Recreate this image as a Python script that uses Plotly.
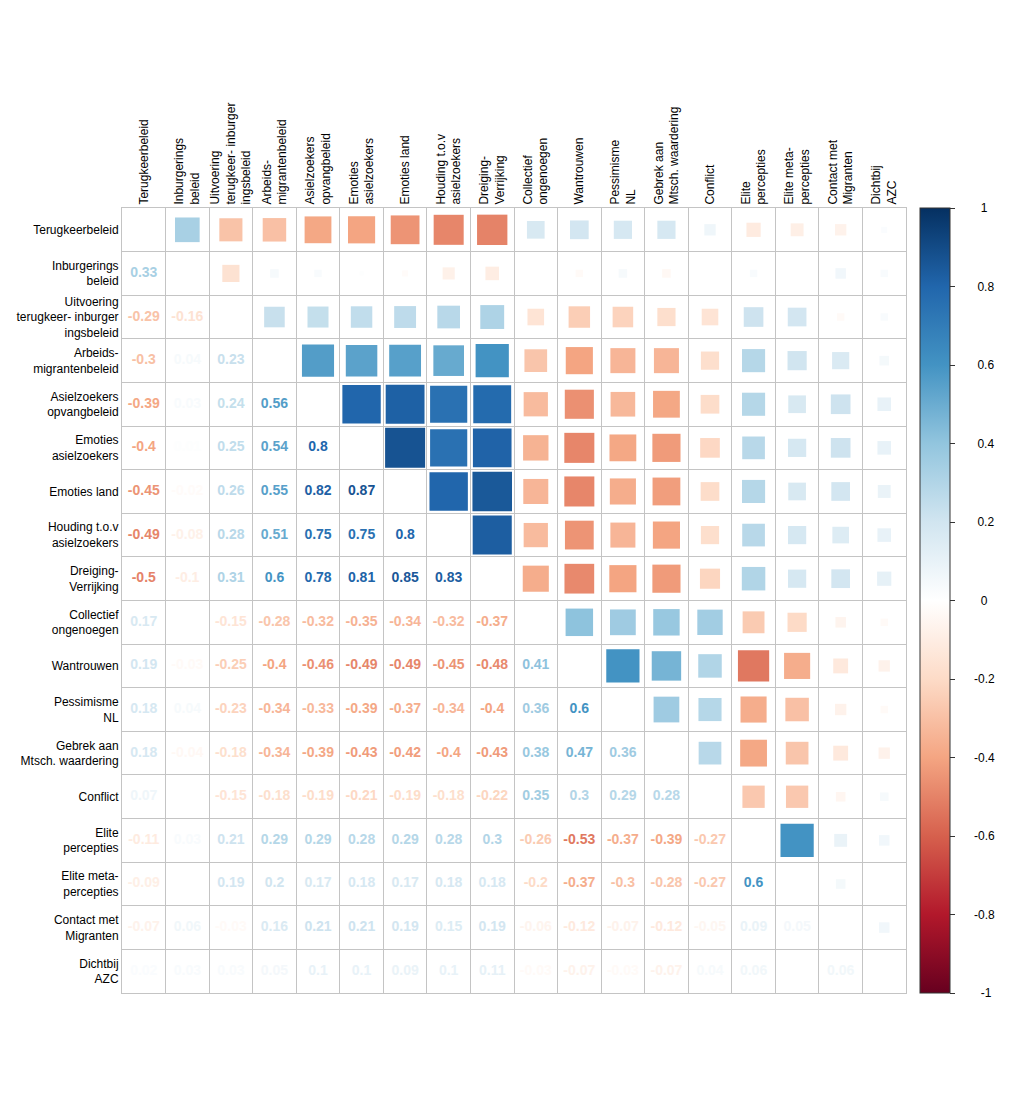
import math
import plotly.graph_objects as go

labels = [
    "Terugkeerbeleid",
    "Inburgerings<br>beleid",
    "Uitvoering<br>terugkeer- inburger<br>ingsbeleid",
    "Arbeids-<br>migrantenbeleid",
    "Asielzoekers<br>opvangbeleid",
    "Emoties<br>asielzoekers",
    "Emoties land",
    "Houding t.o.v<br>asielzoekers",
    "Dreiging-<br>Verrijking",
    "Collectief<br>ongenoegen",
    "Wantrouwen",
    "Pessimisme<br>NL",
    "Gebrek aan<br>Mtsch. waardering",
    "Conflict",
    "Elite<br>percepties",
    "Elite meta-<br>percepties",
    "Contact met<br>Migranten",
    "Dichtbij<br>AZC",
]

# lower triangle of the correlation matrix (row i, columns 0..i-1)
lower = [
    [],
    [0.33],
    [-0.29, -0.16],
    [-0.30, 0.04, 0.23],
    [-0.39, 0.03, 0.24, 0.56],
    [-0.40, 0.01, 0.25, 0.54, 0.80],
    [-0.45, -0.02, 0.26, 0.55, 0.82, 0.87],
    [-0.49, -0.08, 0.28, 0.51, 0.75, 0.75, 0.80],
    [-0.50, -0.10, 0.31, 0.60, 0.78, 0.81, 0.85, 0.83],
    [0.17, 0.00, -0.15, -0.28, -0.32, -0.35, -0.34, -0.32, -0.37],
    [0.19, -0.03, -0.25, -0.40, -0.46, -0.49, -0.49, -0.45, -0.48, 0.41],
    [0.18, 0.04, -0.23, -0.34, -0.33, -0.39, -0.37, -0.34, -0.40, 0.36, 0.60],
    [0.18, -0.04, -0.18, -0.34, -0.39, -0.43, -0.42, -0.40, -0.43, 0.38, 0.47, 0.36],
    [0.07, 0.00, -0.15, -0.18, -0.19, -0.21, -0.19, -0.18, -0.22, 0.35, 0.30, 0.29, 0.28],
    [-0.11, 0.03, 0.21, 0.29, 0.29, 0.28, 0.29, 0.28, 0.30, -0.26, -0.53, -0.37, -0.39, -0.27],
    [-0.09, 0.00, 0.19, 0.20, 0.17, 0.18, 0.17, 0.18, 0.18, -0.20, -0.37, -0.30, -0.28, -0.27, 0.60],
    [-0.07, 0.06, -0.03, 0.16, 0.21, 0.21, 0.19, 0.15, 0.19, -0.06, -0.12, -0.07, -0.12, -0.05, 0.09, 0.05],
    [0.02, 0.03, 0.03, 0.05, 0.10, 0.10, 0.09, 0.10, 0.11, -0.03, -0.07, -0.03, -0.07, 0.04, 0.06, 0.00, 0.06],
]

colorbar_ticks = [-1, -0.8, -0.6, -0.4, -0.2, 0, 0.2, 0.4, 0.6, 0.8, 1]

palette = ["#67001F", "#B2182B", "#D6604D", "#F4A582", "#FDDBC7", "#FFFFFF",
           "#D1E5F0", "#92C5DE", "#4393C3", "#2166AC", "#053061"]
n = len(labels)
colorscale = [[k / (len(palette) - 1), c] for k, c in enumerate(palette)]


def hex2rgb(h):
    h = h.lstrip("#")
    return tuple(int(h[i:i + 2], 16) for i in (0, 2, 4))


def val2color(v):
    t = (v + 1) / 2 * (len(palette) - 1)
    k = min(int(math.floor(t)), len(palette) - 2)
    f = t - k
    a, b = hex2rgb(palette[k]), hex2rgb(palette[k + 1])
    c = [round(a[m] + (b[m] - a[m]) * f) for m in range(3)]
    return "rgb(%d,%d,%d)" % tuple(c)


def fmt(v):
    s = ("%.2f" % v).rstrip("0").rstrip(".")
    if s in ("-0", ""):
        s = "0"
    return s


def centered_label(s):
    # approximate text width (12px Liberation Sans) so labels look centred
    w = sum(4.0 if ch == "-" else 3.33 if ch == "." else 6.67 for ch in s)
    pad = 27 - w / 2
    return "\u00a0" * max(0, round(pad / 3.33)) + s


# the page body has an 8px margin; size the figure to fit inside it
W, H = 1008, 1081
ml, mr, mt, mb = 114, 110, 200, 96
plot_w = W - ml - mr
cell_px = plot_w / n

# upper triangle squares
sx, sy, sv, ss = [], [], [], []
for i in range(n):
    for j in range(i):
        r = lower[i][j]
        sx.append(i)
        sy.append(j)
        sv.append(r)
        ss.append(math.sqrt(abs(r)) * cell_px * 0.985)

# lower triangle numbers
tx, ty, tt, tc = [], [], [], []
for i in range(n):
    for j in range(i):
        r = lower[i][j]
        tx.append(j)
        ty.append(i)
        tt.append(fmt(r))
        tc.append(val2color(r))

fig = go.Figure()
fig.add_trace(go.Scatter(
    x=sx, y=sy, mode="markers",
    marker=dict(
        symbol="square", size=ss, color=sv, colorscale=colorscale,
        cmin=-1, cmax=1, line=dict(width=0), opacity=1,
        showscale=True,
        colorbar=dict(
            x=(912 - ml) / plot_w, xanchor="left", xpad=0,
            y=0.5, yanchor="middle", len=1.0, lenmode="fraction", ypad=0,
            thickness=30, outlinewidth=1, outlinecolor="#333333",
            tickvals=colorbar_ticks,
            ticktext=[centered_label(fmt(v)) for v in colorbar_ticks],
            ticks="outside", ticklen=5, tickcolor="#333333",
            tickfont=dict(family="Liberation Sans, Arial", size=12, color="black"),
        ),
    ),
    hoverinfo="skip", showlegend=False,
))
fig.add_trace(go.Scatter(
    x=tx, y=ty, mode="text", text=tt,
    textfont=dict(family="Liberation Sans, Arial", size=14, color=tc, weight="bold"),
    hoverinfo="skip", showlegend=False,
))

grid = dict(tickvals=[k - 0.5 for k in range(n + 1)], showgrid=True,
            gridcolor="#C4C4C4", gridwidth=1, ticks="")

fig.update_xaxes(
    side="top", range=[-0.5, n - 0.5], tickvals=list(range(n)), ticktext=labels,
    tickangle=-90, showgrid=False, zeroline=False, minor=grid,
    showline=True, mirror=True, linecolor="#C4C4C4", linewidth=1, ticks="",
    tickfont=dict(family="Liberation Sans, Arial", size=12, color="black"),
    fixedrange=True, automargin=False,
)
fig.update_yaxes(
    range=[n - 0.5, -0.5], tickvals=list(range(n)), ticktext=labels,
    showgrid=False, zeroline=False, minor=grid,
    showline=True, mirror=True, linecolor="#C4C4C4", linewidth=1, ticks="",
    tickfont=dict(family="Liberation Sans, Arial", size=12, color="black"),
    fixedrange=True, automargin=False,
)
fig.update_layout(
    width=W, height=H, margin=dict(l=ml, r=mr, t=mt, b=mb, autoexpand=False),
    paper_bgcolor="white", plot_bgcolor="white",
)
fig.write_html("out.html")
